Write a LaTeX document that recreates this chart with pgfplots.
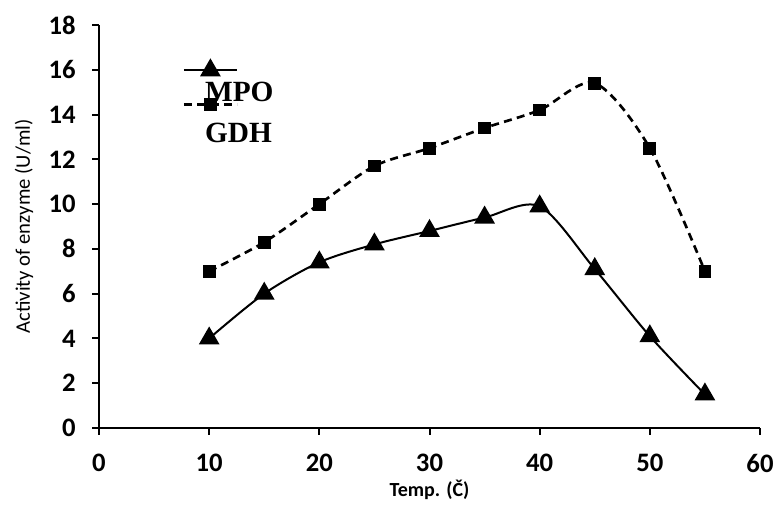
\documentclass[border=0pt]{standalone}
\usepackage{pgfplots}
\pgfplotsset{compat=1.18}
\usepackage{fontspec}
\setmainfont{Carlito}
\newfontfamily\legfont{Liberation Serif}
\begin{document}
\begin{tikzpicture}
\begin{axis}[
    name=a,
    width=495.75pt, height=302.25pt,
    scale only axis,
    xmin=0, xmax=60, ymin=0, ymax=18,
    xtick={0,10,...,60},
    ytick={0,2,...,18},
    axis x line=bottom, axis y line=left,
    axis line style={-, line width=1.5pt},
    tick style={line width=1.5pt, black},
    tick align=outside,
    major tick length=5pt,
    /pgf/number format/assume math mode=true,
    ticklabel style={font=\fontsize{20}{22}\selectfont\bfseries},
    xticklabel style={yshift=-11pt},
    yticklabel style={xshift=-9pt},
    xlabel={Temp. (Č)},
    ylabel={Activity of enzyme (U/ml)},
    xlabel style={font=\fontsize{15}{17}\selectfont\bfseries,
        at={(axis description cs:0.5,-0.154)}, anchor=center},
    ylabel style={font=\fontsize{15.5}{17}\selectfont,
        at={(axis description cs:-0.1135,0.5)}, anchor=center},
    legend style={draw=none, fill=none, at={(axis cs:9.0,15.72)}, anchor=north west,
        font=\legfont\fontsize{22}{24}\selectfont\bfseries,
        row sep=11pt},
    legend cell align=left,
    legend image code/.code={\draw[overlay, xshift=-14pt, mark repeat=2, mark phase=2, #1]
        plot coordinates {(0pt,0pt) (20pt,0pt) (40pt,0pt)};},
]
\addplot[black, line width=1.5pt, smooth, mark=triangle*, mark size=7.5pt,
    mark options={solid}, legend image post style={yshift=16.5pt}] coordinates {
    (10,4.0) (15,6.0) (20,7.4) (25,8.2) (30,8.8) (35,9.4) (40,9.9) (45,7.1) (50,4.1) (55,1.5)
};
\addlegendentry{MPO}
\addplot[black, line width=2pt, smooth, dash pattern=on 6pt off 4pt, mark=square*, mark size=3.8pt,
    mark options={solid}, legend image post style={yshift=22pt}] coordinates {
    (10,7.0) (15,8.3) (20,10.0) (25,11.7) (30,12.5) (35,13.4) (40,14.2) (45,15.4) (50,12.5) (55,7.0)
};
\addlegendentry{GDH}
\end{axis}
\path (a.south west) ++(-74.25pt,-60pt) coordinate (p1);
\path (a.north east) ++(12pt,18.75pt) coordinate (p2);
\pgfresetboundingbox
\path (p1) rectangle (p2);
\end{tikzpicture}
\end{document}
